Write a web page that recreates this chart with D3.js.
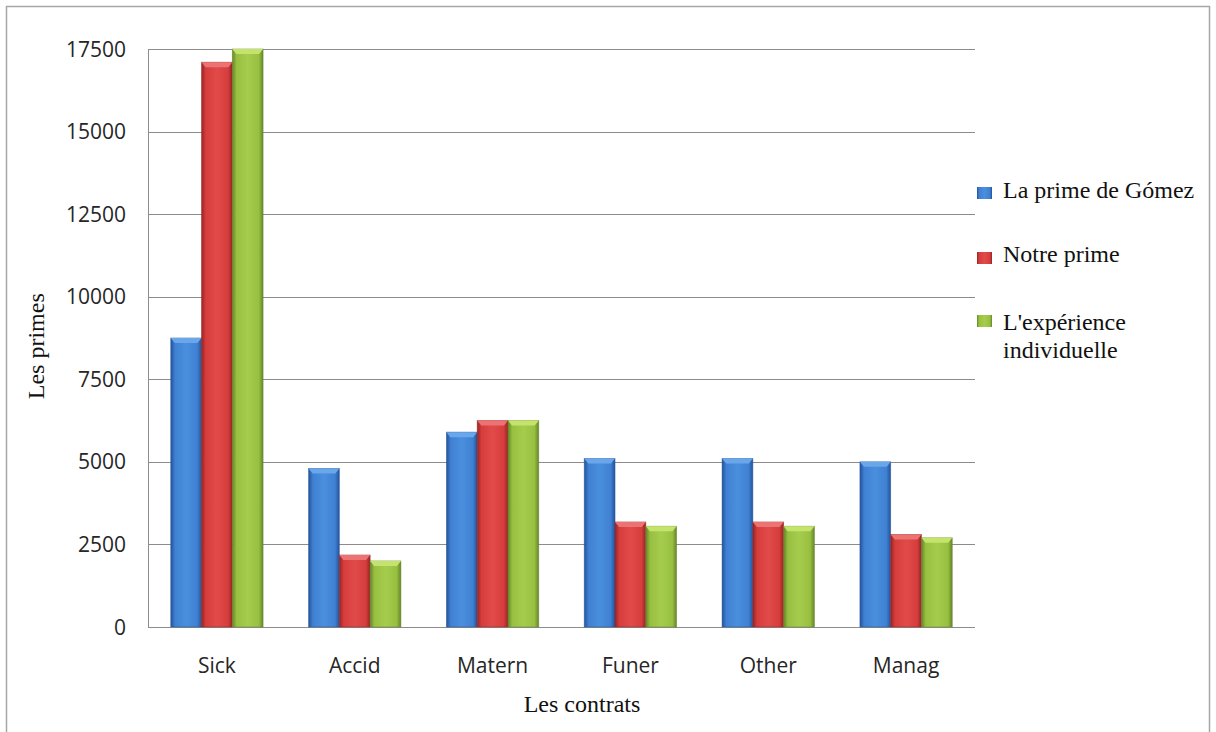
<!DOCTYPE html>
<html>
<head>
<meta charset="utf-8">
<script src="https://cdn.jsdelivr.net/npm/d3@7"></script>
<style>
  body { margin: 0; background: #fff; }
</style>
</head>
<body>
<div id="chart"></div>
<script>
const categories = ['Sick', 'Accid', 'Matern', 'Funer', 'Other', 'Manag']
const seriesNames = ['La prime de Gómez', 'Notre prime', "L'expérience individuelle"]
const gomez = [8750, 4800, 5900, 5100, 5100, 5000]
const notre = [17100, 2180, 6250, 3180, 3180, 2800]
const experience = [17500, 2000, 6250, 3050, 3050, 2700]
const yTicks = [0, 2500, 5000, 7500, 10000, 12500, 15000, 17500]

const W = 1216
const H = 732
const margin = { top: 49, left: 148, right: 241, bottom: 105 }
const width = W - margin.left - margin.right
const height = H - margin.top - margin.bottom

const svgRoot = d3
  .select('#chart')
  .append('svg')
  .attr('width', W)
  .attr('height', H)

// outer frame
svgRoot
  .append('rect')
  .attr('x', 6.5)
  .attr('y', 6.5)
  .attr('width', 1203)
  .attr('height', 740)
  .attr('fill', '#fff')
  .attr('stroke', '#a6a6a6')
  .attr('stroke-width', 1.5)

const defs = svgRoot.append('defs')
const palette = [
  { mid: '#3f80d2', light: '#4a8fde', dark: '#24539a', cap: '#6aa6ea' },
  { mid: '#d63d3c', light: '#e04b4a', dark: '#962424', cap: '#ec7373' },
  { mid: '#98c040', light: '#a6cc4e', dark: '#66852a', cap: '#c4e36d' }
]
palette.forEach((p, i) => {
  const g = defs
    .append('linearGradient')
    .attr('id', 'grad' + i)
    .attr('x1', 0)
    .attr('x2', 1)
    .attr('y1', 0)
    .attr('y2', 0)
  g.append('stop').attr('offset', '0%').attr('stop-color', p.dark)
  g.append('stop').attr('offset', '14%').attr('stop-color', p.mid)
  g.append('stop').attr('offset', '50%').attr('stop-color', p.light)
  g.append('stop').attr('offset', '86%').attr('stop-color', p.mid)
  g.append('stop').attr('offset', '100%').attr('stop-color', p.dark)
})

const svg = svgRoot
  .append('g')
  .attr('transform', 'translate(' + margin.left + ',' + margin.top + ')')

// scales
const xScale = d3
  .scaleBand()
  .domain(categories)
  .range([0, width])
  .paddingInner(0.33)
  .paddingOuter(0.165)

const xInner = d3
  .scaleBand()
  .domain(d3.range(seriesNames.length))
  .range([0, xScale.bandwidth()])

const yScale = d3
  .scaleLinear()
  .domain([0, 17500])
  .range([height, 0])

// gridlines
svg
  .selectAll('.grid')
  .data(yTicks)
  .enter()
  .append('line')
  .attr('class', 'grid')
  .attr('x1', 0)
  .attr('x2', width)
  .attr('y1', d => Math.round(yScale(d)) + 0.5)
  .attr('y2', d => Math.round(yScale(d)) + 0.5)
  .attr('stroke', '#8c8c8c')
  .attr('stroke-width', 1)

svg
  .append('line')
  .attr('x1', 0.5)
  .attr('x2', 0.5)
  .attr('y1', 0)
  .attr('y2', height)
  .attr('stroke', '#8c8c8c')

// y tick labels
svg
  .selectAll('.y-label')
  .data(yTicks)
  .enter()
  .append('text')
  .attr('class', 'y-label')
  .text(d => d)
  .attr('x', -22)
  .attr('y', d => yScale(d))
  .attr('dy', '0.36em')
  .attr('text-anchor', 'end')
  .attr('font-family', 'Open Sans, sans-serif')
  .attr('font-size', 21)
  .attr('fill', '#262626')

// bars
const rows = categories.map((c, i) => ({
  category: c,
  values: [gomez[i], notre[i], experience[i]]
}))

const groups = svg
  .selectAll('.group')
  .data(rows)
  .enter()
  .append('g')
  .attr('class', 'group')
  .attr('transform', d => `translate(${xScale(d.category)},0)`)

groups.each(function(d) {
  const g = d3.select(this)
  d.values.forEach((v, i) => {
    const x0 = xInner(i)
    const bw = xInner.bandwidth()
    const y0 = yScale(v)
    g.append('rect')
      .attr('x', x0)
      .attr('y', y0)
      .attr('width', bw)
      .attr('height', height - y0)
      .attr('fill', 'url(#grad' + i + ')')
      .attr('stroke', palette[i].dark)
      .attr('stroke-opacity', 0.6)
      .attr('stroke-width', 0.8)
    // bevel cap
    g.append('path')
      .attr(
        'd',
        `M${x0},${y0} L${x0 + bw},${y0} L${x0 + bw - 4},${y0 + 5} L${x0 + 4},${y0 + 5} Z`
      )
      .attr('fill', palette[i].cap)
  })
})

// x labels
svg
  .selectAll('.x-label')
  .data(categories)
  .enter()
  .append('text')
  .attr('class', 'x-label')
  .text(d => d)
  .attr('x', d => xScale(d) + xScale.bandwidth() / 2)
  .attr('y', height + 46)
  .attr('text-anchor', 'middle')
  .attr('font-family', 'Open Sans, sans-serif')
  .attr('font-size', 21)
  .attr('fill', '#262626')

// axis titles
svg
  .append('text')
  .text('Les contrats')
  .attr('x', 434)
  .attr('y', height + 85)
  .attr('text-anchor', 'middle')
  .attr('font-family', 'Liberation Serif, serif')
  .attr('font-size', 24)
  .attr('fill', '#111')

svg
  .append('text')
  .text('Les primes')
  .attr('transform', `translate(${-104},${yScale(8500)}) rotate(-90)`)
  .attr('text-anchor', 'middle')
  .attr('font-family', 'Liberation Serif, serif')
  .attr('font-size', 24)
  .attr('fill', '#111')

// legend
const legendY = [193, 258, 321]
const legend = svgRoot
  .selectAll('.legend')
  .data(seriesNames)
  .enter()
  .append('g')
  .attr('class', 'legend')
  .attr('transform', (d, i) => `translate(977,${legendY[i]})`)

legend
  .append('rect')
  .attr('x', 0)
  .attr('y', -6)
  .attr('width', 15)
  .attr('height', 12)
  .attr('fill', (d, i) => 'url(#grad' + i + ')')

legend.each(function(d, i) {
  const g = d3.select(this)
  const lines = i === 2 ? ["L'expérience", 'individuelle'] : [d]
  lines.forEach((t, j) => {
    g.append('text')
      .text(t)
      .attr('x', 26)
      .attr('y', (i === 2 ? 9 : i === 1 ? 4 : 5) + j * 28)
      .attr('font-family', 'Liberation Serif, serif')
      .attr('font-size', 24)
      .attr('fill', '#111')
  })
})
</script>
</body>
</html>
